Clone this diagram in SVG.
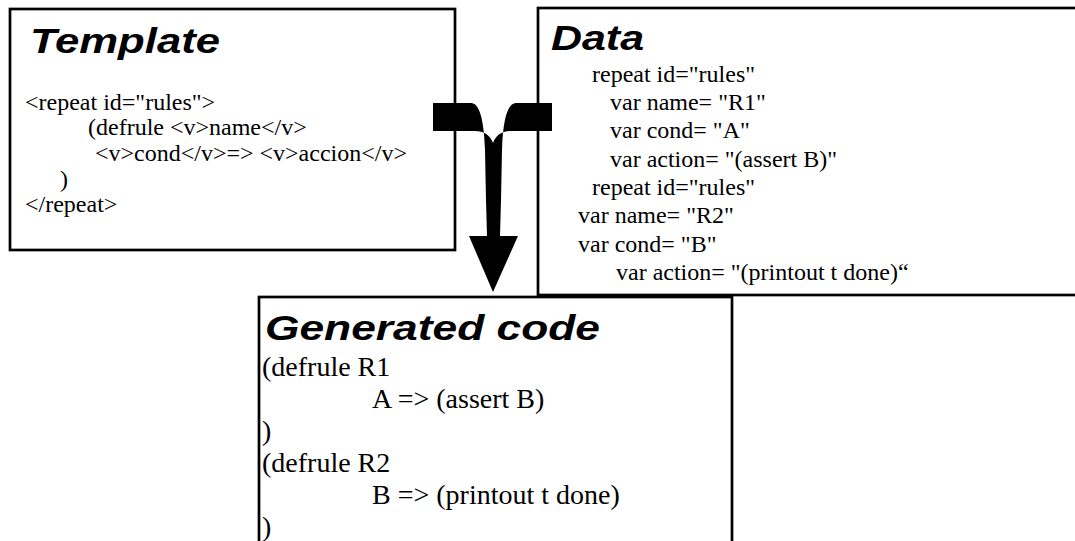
<svg xmlns="http://www.w3.org/2000/svg" width="1075" height="541" viewBox="0 0 1075 541">
<style>
.box{fill:#fff;stroke:#000;stroke-width:2.7}
.title{font-family:"Liberation Sans",Arial,sans-serif;font-weight:bold;font-style:italic;font-size:35px;fill:#000}
.t{font-family:'Liberation Serif','Nimbus Roman','DejaVu Serif',serif;font-size:24px;fill:#000}
.g{font-family:'Liberation Serif','Nimbus Roman','DejaVu Serif',serif;font-size:28px;fill:#000}
</style>
<rect width="1075" height="541" fill="#fff"/>
<g id="template">
<rect class="box" x="10" y="9" width="445" height="241"/>
<text class="title" x="30" y="53" textLength="190" lengthAdjust="spacingAndGlyphs">Template</text>
<text class="t" x="25" y="110">&lt;repeat id="rules"&gt;</text>
<text class="t" x="88" y="135">(defrule &lt;v&gt;name&lt;/v&gt;</text>
<text class="t" x="95" y="161">&lt;v&gt;cond&lt;/v&gt;=&gt; &lt;v&gt;accion&lt;/v&gt;</text>
<text class="t" x="60" y="187">)</text>
<text class="t" x="25" y="212">&lt;/repeat&gt;</text>
</g>
<g id="data">
<rect class="box" x="538" y="8" width="545" height="287"/>
<text class="title" x="551" y="50" textLength="93" lengthAdjust="spacingAndGlyphs">Data</text>
<text class="t" x="592" y="82">repeat id="rules"</text>
<text class="t" x="610" y="110">var name= "R1"</text>
<text class="t" x="610" y="138">var cond= "A"</text>
<text class="t" x="610" y="167">var action= "(assert B)"</text>
<text class="t" x="592" y="195">repeat id="rules"</text>
<text class="t" x="578" y="223">var name= "R2"</text>
<text class="t" x="578" y="252">var cond= "B"</text>
<text class="t" x="616" y="280">var action= "(printout t done)“</text>
</g>
<g id="generated">
<rect class="box" x="259" y="297" width="473" height="260"/>
<text class="title" x="265" y="340" textLength="335" lengthAdjust="spacingAndGlyphs">Generated code</text>
<text class="g" x="262" y="376">(defrule R1</text>
<text class="g" x="372" y="408">A =&gt; (assert B)</text>
<text class="g" x="262" y="440">)</text>
<text class="g" x="262" y="472">(defrule R2</text>
<text class="g" x="372" y="504">B =&gt; (printout t done)</text>
<text class="g" x="262" y="536">)</text>
</g>
<g id="connectors">
<path d="M433 103 L471 103 C479 103 484 118 485 150 L486 200 L487 236 L469 236 L493 292 L518 236 L500 236 L501 200 L502 150 C503 118 508 103 516 103 L552 103 L552 131 L512 131 C502 131 496 135 493 143 C490 135 484 131 475 131 L433 131 Z" fill="#000"/>
</g>
</svg>
